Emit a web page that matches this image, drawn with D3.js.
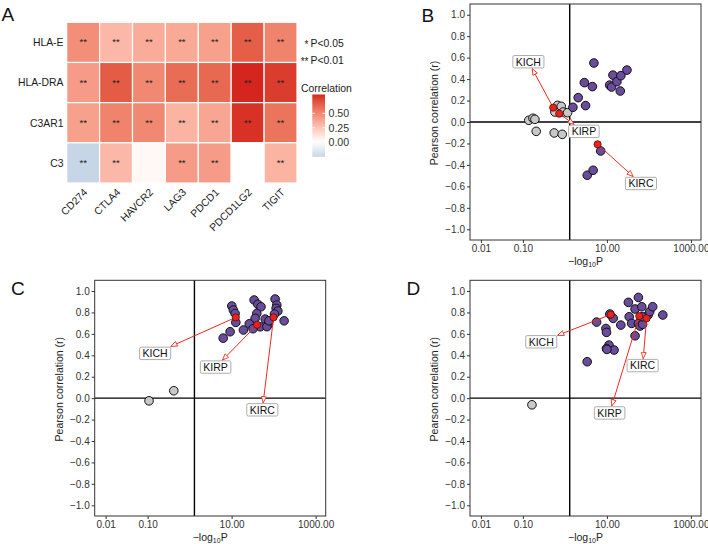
<!DOCTYPE html>
<html><head><meta charset="utf-8">
<script src="https://cdn.jsdelivr.net/npm/d3@7"></script>
<style>
body{margin:0;background:#fff}
svg{display:block}
text{font-family:"Liberation Sans",Arial,Helvetica,sans-serif}
</style>
</head><body>
<svg id="chart" width="708" height="544"></svg>
<script>
// ---------------- DATA ----------------
// Panel A heatmap
const hmRows = ["HLA-E", "HLA-DRA", "C3AR1", "C3"];
const hmCols = ["CD274", "CTLA4", "HAVCR2", "LAG3", "PDCD1", "PDCD1LG2", "TIGIT"];
const corHLAE   = [0.47, 0.30, 0.35, 0.36, 0.40, 0.66, 0.52];
const corHLADRA = [0.42, 0.67, 0.50, 0.61, 0.62, 0.83, 0.77];
const corC3AR1  = [0.40, 0.52, 0.50, 0.32, 0.38, 0.80, 0.58];
const corC3     = [-0.26, 0.30, 0.03, 0.42, 0.42, 0.00, 0.32];
const sigHLAE   = ["**", "**", "**", "**", "**", "**", "**"];
const sigHLADRA = ["**", "**", "**", "**", "**", "**", "**"];
const sigC3AR1  = ["**", "**", "**", "**", "**", "**", "**"];
const sigC3     = ["**", "**", "", "**", "**", "", "**"];
const colorbarTicks = [0, 0.25, 0.5];
const sigLegend = [["*", "P<0.05"], ["**", "P<0.01"]];

// Scatter panels: [ -log10P , Pearson r ]
const xTicks = [0.01, 0.1, 10, 1000];
const yTicks = [-1, -0.8, -0.6, -0.4, -0.2, 0, 0.2, 0.4, 0.6, 0.8, 1];
const pThreshold = 1.301; // -log10(0.05)

const grayB = [[0.138, 0.016], [0.173, 0.035], [0.193, 0.025], [0.207, -0.087],
  [0.67, 0.155], [0.817, 0.146], [0.578, 0.093], [0.91, 0.093], [1.16, 0.087],
  [0.556, -0.102], [0.863, -0.115]];
const purpleB = [[1.55, 0.137], [2.07, 0.227], [3.1, 0.153], [2.9, 0.367], [4.5, 0.33],
  [4.9, 0.55], [13.9, 0.437], [11.6, 0.344], [12.9, 0.326], [17.3, 0.376],
  [21.5, 0.432], [30, 0.484], [20.8, 0.289], [7.1, -0.27], [3.4, -0.496], [4.7, -0.45]];
const hiB = [["KICH", 0.526, 0.134], ["KIRP", 0.73, 0.078], ["KIRC", 6.0, -0.208]];
const labB = [["KICH", 0.135, 0.562], ["KIRP", 2.83, -0.087], ["KIRC", 64.6, -0.573]];

const grayC = [[0.108, -0.025], [0.42, 0.069]];
const purpleC = [[10.1, 0.86], [11.0, 0.822], [12.1, 0.79], [12.6, 0.707], [9.2, 0.62],
  [6.3, 0.56], [34.4, 0.916], [42.1, 0.876], [50.1, 0.853], [39.8, 0.79], [36.3, 0.745],
  [26.3, 0.694], [19.1, 0.636], [47.9, 0.666], [63.1, 0.738], [75.2, 0.689], [69.2, 0.667],
  [108.6, 0.925], [119.1, 0.869], [114.8, 0.838], [125.9, 0.813], [104.7, 0.785],
  [77.6, 0.722], [177.8, 0.722], [32.4, 0.648]];
const hiC = [["KICH", 12.6, 0.754], ["KIRP", 40.5, 0.685], ["KIRC", 100, 0.754]];
const labC = [["KICH", 0.151, 0.418], ["KIRP", 4.16, 0.29], ["KIRC", 53.8, -0.109]];

const grayD = [[0.164, -0.062]];
const purpleD = [[3.39, 0.34], [5.68, 0.71], [14.1, 0.745], [9.46, 0.65], [9.77, 0.614],
  [11.2, 0.495], [9.77, 0.464], [14.8, 0.449], [10, 0.455], [21.4, 0.682], [32.4, 0.894],
  [33.9, 0.76], [38.9, 0.698], [46.8, 0.832], [56.2, 0.94], [67.6, 0.853], [46.8, 0.582],
  [56.2, 0.698], [61.7, 0.673], [70.8, 0.689], [95.5, 0.776], [104.7, 0.807], [123, 0.853],
  [213.8, 0.776], [11.7, 0.785], [69.2, 0.76]];
const hiD = [["KICH", 12.3, 0.78], ["KIRP", 58.9, 0.766], ["KIRC", 88.1, 0.745]];
const labD = [["KICH", 0.273, 0.526], ["KIRC", 70.8, 0.304], ["KIRP", 11.6, -0.138]];

// ---------------- DRAW ----------------
const svg = d3.select("#chart");
const FONT = '"Liberation Sans",Arial,Helvetica,sans-serif';

// Panel letters
[["A", 1.5, 21], ["B", 421.5, 22], ["C", 11, 295], ["D", 406.5, 295]].forEach(([t, x, y]) => {
  svg.append("text").attr("x", x).attr("y", y).attr("font-size", 19).attr("fill", "#111").text(t);
});

// ----- Panel A -----
(function () {
  const vals = [corHLAE, corHLADRA, corC3AR1, corC3];
  const sigs = [sigHLAE, sigHLADRA, sigC3AR1, sigC3];
  const x = d3.scaleBand().domain(hmCols).range([66.7, 297]);
  const y = d3.scaleBand().domain(hmRows).range([22.3, 183]);
  const lim = d3.max(vals.flat().map(Math.abs));
  const color = d3.scaleLinear().domain([-lim, 0, lim])
    .range(["#4682b4", "#ffffff", "#d4251e"]).interpolate(d3.interpolateLab);
  const cells = [];
  hmRows.forEach((r, i) => hmCols.forEach((c, j) => cells.push({ r, c, v: vals[i][j], s: sigs[i][j] })));
  const g = svg.append("g");
  g.selectAll("rect").data(cells).enter().append("rect")
    .attr("x", d => x(d.c)).attr("y", d => y(d.r))
    .attr("width", x.bandwidth()).attr("height", y.bandwidth())
    .attr("fill", d => color(d.v)).attr("stroke", "#fff").attr("stroke-width", 1.2);
  g.selectAll("text.sig").data(cells).enter().append("text").attr("class", "sig")
    .attr("x", d => x(d.c) + x.bandwidth() / 2).attr("y", d => y(d.r) + y.bandwidth() / 2 + 3)
    .attr("text-anchor", "middle").attr("font-size", 9.5).attr("fill", "#222").text(d => d.s);
  // row labels
  g.selectAll("text.row").data(hmRows).enter().append("text").attr("class", "row")
    .attr("x", 63.5).attr("y", d => y(d) + y.bandwidth() / 2 + 3.8)
    .attr("text-anchor", "end").attr("font-size", 10.4).attr("fill", "#1a1a1a").text(d => d);
  // col labels
  g.selectAll("text.col").data(hmCols).enter().append("text").attr("class", "col")
    .attr("transform", d => `translate(${x(d) + x.bandwidth() / 2 + 5},${193}) rotate(-45)`)
    .attr("text-anchor", "end").attr("font-size", 10.4).attr("fill", "#1a1a1a").text(d => d);
  // significance legend
  sigLegend.forEach(([st, lab], i) => {
    const yy = 46.5 + i * 17.5;
    g.append("text").attr("x", 308.5).attr("y", yy + 1).attr("text-anchor", "end")
      .attr("font-size", 10).attr("fill", "#222").text(st);
    g.append("text").attr("x", 310.5).attr("y", yy).attr("font-size", 10.4).attr("fill", "#1a1a1a").text(lab);
  });
  // colorbar
  const cbY = d3.scaleLinear().domain(d3.extent(vals.flat())).range([156.8, 94.5]);
  const grad = svg.append("defs").append("linearGradient").attr("id", "cbgrad")
    .attr("x1", 0).attr("y1", 1).attr("x2", 0).attr("y2", 0);
  const [mn, mx] = cbY.domain();
  d3.range(0, 1.0001, 0.05).forEach(t => {
    grad.append("stop").attr("offset", t).attr("stop-color", color(mn + t * (mx - mn)));
  });
  g.append("text").attr("x", 301).attr("y", 92).attr("font-size", 10.4).attr("fill", "#1a1a1a").text("Correlation");
  g.append("rect").attr("x", 312.3).attr("y", cbY(mx)).attr("width", 12.7).attr("height", cbY(mn) - cbY(mx))
    .attr("fill", "url(#cbgrad)");
  colorbarTicks.forEach(t => {
    g.append("line").attr("x1", 312.3).attr("x2", 314.8).attr("y1", cbY(t)).attr("y2", cbY(t)).attr("stroke", "#fff").attr("stroke-width", 0.8);
    g.append("line").attr("x1", 322.5).attr("x2", 325).attr("y1", cbY(t)).attr("y2", cbY(t)).attr("stroke", "#fff").attr("stroke-width", 0.8);
    g.append("text").attr("x", 328.5).attr("y", cbY(t) + 4).attr("font-size", 10.6).attr("fill", "#333").text(d3.format(".2f")(t));
  });
})();

// ----- Scatter panels -----
const defs = svg.append("defs");
defs.append("marker").attr("id", "arr").attr("viewBox", "0 0 12 10").attr("refX", 11).attr("refY", 5)
  .attr("markerWidth", 7.5).attr("markerHeight", 6.5).attr("markerUnits", "userSpaceOnUse").attr("orient", "auto")
  .append("path").attr("d", "M1,1 L11,5 L1,9 Z").attr("fill", "#fff").attr("stroke", "#ee2a1e").attr("stroke-width", 1.3);

function scatter(left, top, w, h, gray, purple, hi, labs) {
  const x = d3.scaleLog().domain([Math.pow(10, -2.26), Math.pow(10, 3.24)]).range([left, left + w]);
  const y = d3.scaleLinear().domain([-1.1, 1.1]).range([top + h, top]);
  const g = svg.append("g");
  // axes
  const ax = g.append("g").attr("transform", `translate(0,${top + h})`)
    .call(d3.axisBottom(x).tickValues(xTicks).tickFormat(d3.format(".2f")).tickSize(3).tickPadding(2));
  const ay = g.append("g").attr("transform", `translate(${left},0)`)
    .call(d3.axisLeft(y).tickValues(yTicks).tickFormat(d3.format(".1f")).tickSize(3).tickPadding(2));
  [ax, ay].forEach(a => {
    a.select(".domain").remove();
    a.selectAll("line").attr("stroke", "#333");
    a.selectAll("text").attr("font-size", 10).attr("fill", "#333").attr("font-family", FONT);
  });
  ax.selectAll("text").attr("dy", "0.71em");
  // titles
  const xt = g.append("text").attr("x", left + w / 2).attr("y", top + h + 24.5).attr("text-anchor", "middle")
    .attr("font-size", 10.5).attr("fill", "#222");
  xt.append("tspan").text("\u2212log");
  xt.append("tspan").attr("font-size", 7).attr("dy", 2.5).text("10");
  xt.append("tspan").attr("dy", -2.5).text("P");
  g.append("text").attr("transform", `translate(${left - 32},${top + h / 2 - 9}) rotate(-90)`)
    .attr("text-anchor", "middle").attr("font-size", 10.5).attr("fill", "#222").text("Pearson correlation (r)");
  // reference lines
  g.append("line").attr("x1", x(pThreshold)).attr("x2", x(pThreshold)).attr("y1", top).attr("y2", top + h)
    .attr("stroke", "#000").attr("stroke-width", 1.4);
  g.append("line").attr("x1", left).attr("x2", left + w).attr("y1", y(0)).attr("y2", y(0))
    .attr("stroke", "#000").attr("stroke-width", 1.4);
  // points
  g.selectAll("circle.g").data(gray).enter().append("circle").attr("class", "g")
    .attr("cx", d => x(d[0])).attr("cy", d => y(d[1])).attr("r", 4.3)
    .attr("fill", "#c8c8c8").attr("stroke", "#111").attr("stroke-width", 1);
  g.selectAll("circle.p").data(purple).enter().append("circle").attr("class", "p")
    .attr("cx", d => x(d[0])).attr("cy", d => y(d[1])).attr("r", 4.3)
    .attr("fill", "#6a4c9c").attr("stroke", "#111").attr("stroke-width", 1);
  // labels with arrows
  labs.forEach(([name, lx, ly]) => {
    const p = hi.find(h => h[0] === name);
    const px = x(p[1]), py = y(p[2]);
    const cx = x(lx), cy = y(ly);
    const t = g.append("text").attr("x", cx).attr("y", cy + 3.8).attr("text-anchor", "middle")
      .attr("font-size", 10.5).attr("fill", "#111").text(name);
    const tw = t.node().getComputedTextLength();
    const hw = tw / 2 + 3, hh = 6.2;
    const dx = px - cx, dy = py - cy;
    const s = Math.min((hw + 0.8) / Math.abs(dx || 1e-6), (hh + 0.8) / Math.abs(dy || 1e-6));
    const tx = cx + dx * s, ty = cy + dy * s;
    g.append("line").attr("x1", px).attr("y1", py).attr("x2", tx).attr("y2", ty)
      .attr("stroke", "#ee2a1e").attr("stroke-width", 1).attr("marker-end", "url(#arr)");
    g.append("rect").attr("x", cx - hw).attr("y", cy - hh).attr("width", hw * 2).attr("height", hh * 2)
      .attr("rx", 1.5).attr("fill", "#fff").attr("stroke", "#8a8a8a").attr("stroke-width", 0.7);
    t.raise();
  });
  // highlighted points
  g.selectAll("circle.h").data(hi).enter().append("circle").attr("class", "h")
    .attr("cx", d => x(d[1])).attr("cy", d => y(d[2])).attr("r", 3.6)
    .attr("fill", "#e8231b").attr("stroke", "#5a0a08").attr("stroke-width", 0.8);
  // border
  g.append("rect").attr("x", left).attr("y", top).attr("width", w).attr("height", h)
    .attr("fill", "none").attr("stroke", "#333").attr("stroke-width", 1);
}

scatter(470, 4, 231, 236, grayB, purpleB, hiB, labB);
scatter(94.7, 280.3, 231, 235.7, grayC, purpleC, hiC, labC);
scatter(470, 280.3, 231, 235.7, grayD, purpleD, hiD, labD);
</script>
</body></html>
